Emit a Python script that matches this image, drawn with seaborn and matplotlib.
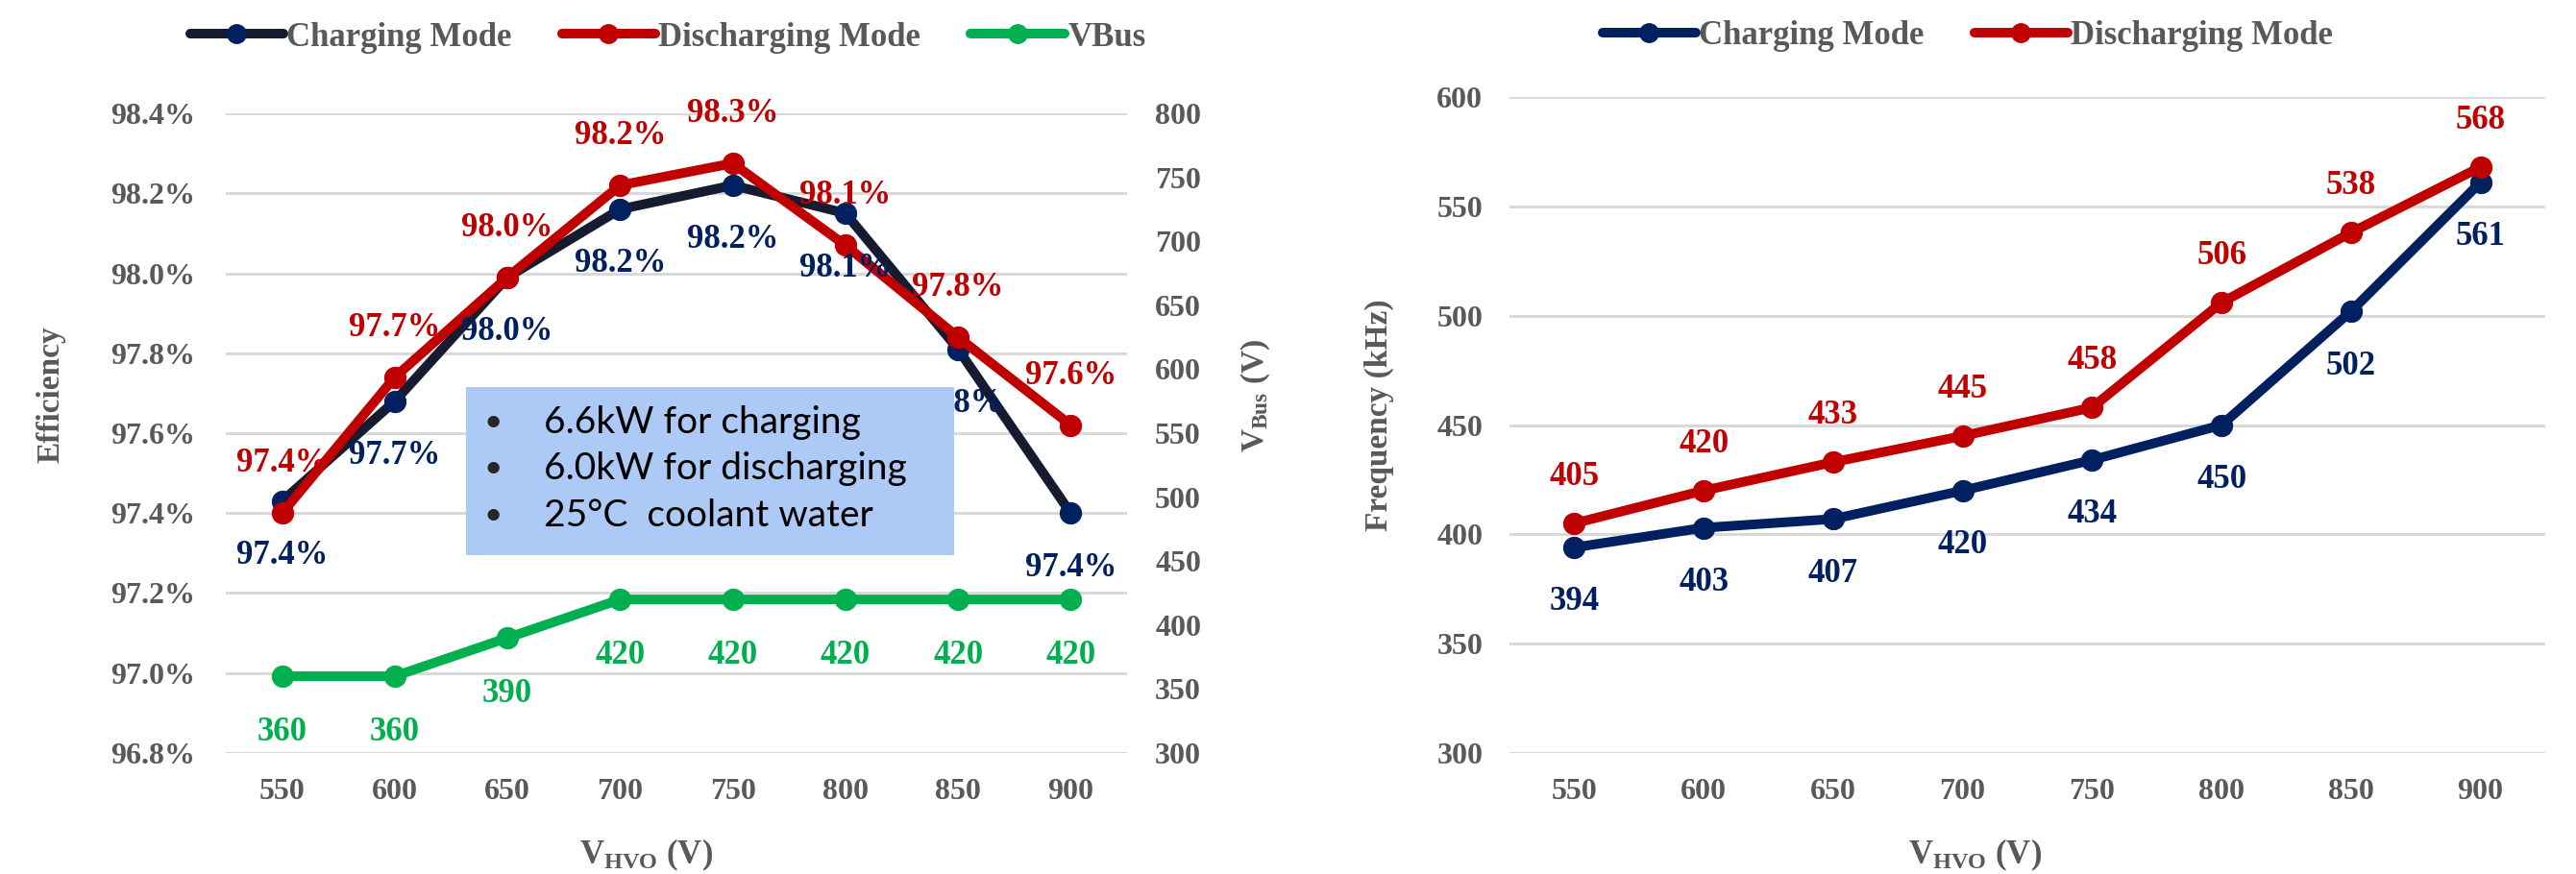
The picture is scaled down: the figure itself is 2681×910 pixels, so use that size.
import matplotlib
matplotlib.use('Agg')
import matplotlib.pyplot as plt
import seaborn as sns
from matplotlib.lines import Line2D
from matplotlib.patches import Rectangle
from matplotlib.ticker import FuncFormatter

# ---------------- data ----------------
v_hvo = [550, 600, 650, 700, 750, 800, 850, 900]
eff_charging = [97.43, 97.68, 97.99, 98.16, 98.22, 98.15, 97.81, 97.40]
eff_discharging = [97.40, 97.74, 97.99, 98.22, 98.275, 98.07, 97.84, 97.62]
eff_charging_labels = ['97.4%', '97.7%', '98.0%', '98.2%', '98.2%', '98.1%', '97.8%', '97.4%']
eff_discharging_labels = ['97.4%', '97.7%', '98.0%', '98.2%', '98.3%', '98.1%', '97.8%', '97.6%']
vbus = [360, 360, 390, 420, 420, 420, 420, 420]
freq_charging = [394, 403, 407, 420, 434, 450, 502, 561]
freq_discharging = [405, 420, 433, 445, 458, 506, 538, 568]
eff_ticks = [96.8, 97.0, 97.2, 97.4, 97.6, 97.8, 98.0, 98.2, 98.4]
vbus_ticks = [300, 350, 400, 450, 500, 550, 600, 650, 700, 750, 800]
freq_ticks = [300, 350, 400, 450, 500, 550, 600]
legend_left = ['Charging Mode', 'Discharging Mode', 'VBus']
legend_right = ['Charging Mode', 'Discharging Mode']
box_lines = ['6.6kW for charging', '6.0kW for discharging', '25°C  coolant water']

# ---------------- style ----------------
sns.set_theme(style='white')
plt.rcParams['font.family'] = ['Liberation Serif', 'DejaVu Serif']
plt.rcParams['font.weight'] = 'bold'
plt.rcParams['axes.labelweight'] = 'bold'
plt.rcParams['mathtext.fontset'] = 'custom'
plt.rcParams['mathtext.rm'] = 'Liberation Serif:bold'
plt.rcParams['mathtext.bf'] = 'Liberation Serif:bold'
plt.rcParams['mathtext.it'] = 'Liberation Serif:bold'

NAVY = '#002060'
DARK = '#161b30'
RED = '#c00000'
GREEN = '#00b050'
GRAY = '#595959'
GRID = '#d9d9d9'
LW = 7.2
MS = 16
W, H = 2681, 910

fig = plt.figure(figsize=(W / 100, H / 100), dpi=100)
fig.patch.set_facecolor('white')
ax1 = fig.add_axes([235 / W, 1 - 784 / H, 938 / W, 666 / H])
ax1b = ax1.twinx()
ax2 = fig.add_axes([1571 / W, 1 - 784 / H, 1078 / W, 683 / H])

# ---------------- left chart ----------------
sns.lineplot(x=v_hvo, y=eff_charging, ax=ax1, color=DARK, lw=LW, marker='o', markersize=MS,
             markerfacecolor=NAVY, markeredgecolor=NAVY, zorder=3)
sns.lineplot(x=v_hvo, y=eff_discharging, ax=ax1, color=RED, lw=LW, marker='o', markersize=MS,
             markerfacecolor=RED, markeredgecolor=RED, zorder=4)
sns.lineplot(x=v_hvo, y=vbus, ax=ax1b, color=GREEN, lw=LW, marker='o', markersize=MS,
             markerfacecolor=GREEN, markeredgecolor=GREEN, zorder=3)

for x, y, t in zip(v_hvo, eff_charging, eff_charging_labels):
    ax1.annotate(t, (x, y), xytext=(0, -41), textcoords='offset points', ha='center', va='center',
                 fontsize=25, color=NAVY, zorder=5)
for x, y, t in zip(v_hvo, eff_discharging, eff_discharging_labels):
    ax1.annotate(t, (x, y), xytext=(0, 37), textcoords='offset points', ha='center', va='center',
                 fontsize=25, color=RED, zorder=5)
for x, y in zip(v_hvo, vbus):
    ax1b.annotate(f'{y}', (x, y), xytext=(0, -42), textcoords='offset points', ha='center', va='center',
                  fontsize=25, color=GREEN, zorder=5)

ax1.set_xlim(525, 925)
ax1.set_ylim(96.8, 98.4)
ax1.set_yticks(eff_ticks)
ax1.yaxis.set_major_formatter(FuncFormatter(lambda v, p: f'{v:.1f}%'))
ax1.set_xticks(v_hvo)
ax1b.set_ylim(300, 800)
ax1b.set_yticks(vbus_ticks)
ax1.yaxis.grid(True, color=GRID, lw=2.2)
ax1.xaxis.grid(False)
ax1b.grid(False)
ax1.set_axisbelow(True)

# ---------------- right chart ----------------
sns.lineplot(x=v_hvo, y=freq_charging, ax=ax2, color=NAVY, lw=LW, marker='o', markersize=MS,
             markerfacecolor=NAVY, markeredgecolor=NAVY, zorder=3)
sns.lineplot(x=v_hvo, y=freq_discharging, ax=ax2, color=RED, lw=LW, marker='o', markersize=MS,
             markerfacecolor=RED, markeredgecolor=RED, zorder=4)
for x, y in zip(v_hvo, freq_charging):
    ax2.annotate(f'{y}', (x, y), xytext=(0, -41), textcoords='offset points', ha='center', va='center',
                 fontsize=25, color=NAVY, zorder=5)
for x, y in zip(v_hvo, freq_discharging):
    ax2.annotate(f'{y}', (x, y), xytext=(0, 35), textcoords='offset points', ha='center', va='center',
                 fontsize=25, color=RED, zorder=5)
ax2.set_xlim(525, 925)
ax2.set_ylim(300, 600)
ax2.set_yticks(freq_ticks)
ax2.set_xticks(v_hvo)
ax2.yaxis.grid(True, color=GRID, lw=2.2)
ax2.xaxis.grid(False)
ax2.set_axisbelow(True)

for a in (ax1, ax1b, ax2):
    for s in a.spines.values():
        s.set_visible(False)
    a.tick_params(axis='both', length=0, labelsize=23, labelcolor=GRAY)
ax1.tick_params(axis='y', pad=23)
ax1.tick_params(axis='x', pad=19)
ax1b.tick_params(axis='y', pad=21)
ax2.tick_params(axis='y', pad=20)
ax2.tick_params(axis='x', pad=19)
for a in (ax1, ax1b, ax2):
    for lab in a.get_xticklabels() + a.get_yticklabels():
        lab.set_fontweight('bold')

# axis labels
ax1.set_xlabel(r'V$_{\mathrm{HVO}}$ (V)', fontsize=25, color=GRAY)
ax1.xaxis.label.set_va('center')
ax1.xaxis.set_label_coords(0.466, -0.159)
ax1.set_ylabel('Efficiency', fontsize=24, color=GRAY)
ax1.yaxis.label.set_va('center')
ax1.yaxis.set_label_coords(-0.194, 0.56)
ax1b.set_ylabel(r'V$_{\mathrm{Bus}}$ (V)', fontsize=24, color=GRAY)
ax1b.yaxis.label.set_va('center')
ax1b.yaxis.set_label_coords(1.143, 0.559)
ax2.set_xlabel(r'V$_{\mathrm{HVO}}$ (V)', fontsize=25, color=GRAY)
ax2.xaxis.label.set_va('center')
ax2.xaxis.set_label_coords(0.449, -0.155)
ax2.set_ylabel('Frequency (kHz)', fontsize=24, color=GRAY)
ax2.yaxis.label.set_va('center')
ax2.yaxis.set_label_coords(-0.126, 0.515)

# legends
def handle(line_color, marker_color):
    return Line2D([], [], color=line_color, lw=LW, marker='o', markersize=14,
                  markerfacecolor=marker_color, markeredgecolor=marker_color)

hl = [handle(DARK, NAVY), handle(RED, RED), handle(GREEN, GREEN)]
fig.legend(hl, legend_left, loc='center', bbox_to_anchor=(695 / W, 1 - 39 / H), ncol=3, frameon=False,
           fontsize=25, handlelength=2.8, handletextpad=0.1, columnspacing=1.5, labelcolor=GRAY)
hr = [handle(NAVY, NAVY), handle(RED, RED)]
fig.legend(hr, legend_right, loc='center', bbox_to_anchor=(2048 / W, 1 - 38 / H), ncol=2, frameon=False,
           fontsize=25, handlelength=2.8, handletextpad=0.1, columnspacing=1.5, labelcolor=GRAY)

# annotation box
rect = Rectangle((485 / W, 1 - 578 / H), (993 - 485) / W, (578 - 403) / H, transform=fig.transFigure,
                 facecolor='#adc9f5', edgecolor='none', zorder=10)
fig.add_artist(rect)
for yc, t in zip([440, 488, 537], box_lines):
    fig.text(513 / W, 1 - yc / H, '•', ha='center', va='center', fontsize=24, color='#262626',
             family=['Lato', 'DejaVu Sans'], weight='normal', zorder=11)
    fig.text(566 / W, 1 - yc / H, t, ha='left', va='center', fontsize=28, color='black',
             family=['Lato', 'DejaVu Sans'], weight='normal', zorder=11)

fig.savefig('out.png', dpi=100, facecolor='white')
